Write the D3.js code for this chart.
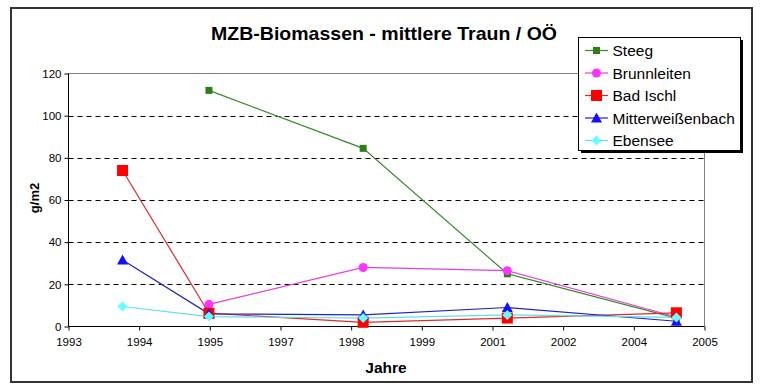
<!DOCTYPE html>
<html><head><meta charset="utf-8">
<script src="https://cdn.jsdelivr.net/npm/d3@7"></script>
<style>body{margin:0;background:#fff}svg{display:block;font-family:"Liberation Sans",Arial,sans-serif}</style>
</head><body><svg id="c" width="762" height="387"></svg>
<script>
const seriesNames = ["Steeg","Brunnleiten","Bad Ischl","Mitterweißenbach","Ebensee"];
const steegYears = [1995.65, 1998.56, 2001.28, 2004.47];
const steegValues = [112, 84.5, 25, 4];
const brunnYears = [1995.65, 1998.56, 2001.28, 2004.47];
const brunnValues = [10.5, 28, 26.5, 4.5];
const ischlYears = [1994.02, 1995.65, 1998.56, 2001.28, 2004.47];
const ischlValues = [74, 6.3, 2, 4, 6.5];
const mitterYears = [1994.02, 1995.65, 1998.56, 2001.28, 2004.47];
const mitterValues = [31.5, 6, 5.5, 9, 2.5];
const ebenseeYears = [1994.02, 1995.65, 1998.56, 2001.28, 2004.47];
const ebenseeValues = [9.5, 4.7, 4, 5.5, 4.3];
const xTickLabels = ["1993","1994","1995","1997","1998","1999","2001","2002","2004","2005"];
const yTicks = [0,20,40,60,80,100,120];

const styles = [
  {line:"#3a8a2a", fill:"#2e7d18", shape:"square", size:7},
  {line:"#e040e0", fill:"#ff33ff", shape:"circle", size:9},
  {line:"#e02a2a", fill:"#ff0000", shape:"square", size:11},
  {line:"#2020c8", fill:"#1010ff", shape:"triangle", size:11},
  {line:"#5ee0ee", fill:"#66ffff", shape:"diamond", size:10}
];
const data = [
  [steegYears, steegValues],[brunnYears, brunnValues],[ischlYears, ischlValues],
  [mitterYears, mitterValues],[ebenseeYears, ebenseeValues]
].map(([xs, ys]) => xs.map((x,i)=>({x, y:ys[i]})));

const svg = d3.select("#c");
const L=68.5, R=704.5, T=73.5, B=326.5;
const x = d3.scaleLinear().domain([1993,2005]).range([L,R]);
const y = d3.scaleLinear().domain([0,120]).range([B,T]);

// outer frame
svg.append("rect").attr("x",11).attr("y",8).attr("width",741).attr("height",374)
  .attr("fill","#fff").attr("stroke","#333").attr("stroke-width",2);

// gridlines
svg.append("g").selectAll("line").data(yTicks.filter(d=>d>0 && d<120)).join("line")
  .attr("x1",L).attr("x2",R).attr("y1",d=>Math.round(y(d))+0.5).attr("y2",d=>Math.round(y(d))+0.5)
  .attr("stroke","#000").attr("stroke-width",1).attr("stroke-dasharray","5,4");
// plot border top/right
svg.append("path").attr("d",`M${L},${T}H${R}V${B}`).attr("fill","none").attr("stroke","#808080").attr("stroke-width",1);

// axes
const xTickVals = d3.range(xTickLabels.length).map(i => 1993 + i*12/(xTickLabels.length-1));
const xAxis = d3.axisBottom(x).tickValues(xTickVals).tickSize(4).tickPadding(7)
  .tickFormat((d,i)=>xTickLabels[i]);
const gx = svg.append("g").attr("transform",`translate(0,${B})`).call(xAxis);
const yAxis = d3.axisLeft(y).tickValues(yTicks).tickSize(4).tickPadding(3);
const gy = svg.append("g").attr("transform",`translate(${L},0)`).call(yAxis);
[gx,gy].forEach(g=>{
  g.selectAll("text").attr("font-size","11.5px").attr("fill","#000").attr("font-family",'"Liberation Sans",Arial,sans-serif');
  g.selectAll("line,path").attr("stroke","#000");
});
gy.select(".domain").attr("d",`M0,${T}V${B}`);
gx.select(".domain").attr("d",`M${L},0H${R}`);

// symbols
function marker(sel, st){
  const s = st.size;
  if(st.shape==="square") sel.append("rect").attr("x",-s/2).attr("y",-s/2).attr("width",s).attr("height",s).attr("fill",st.fill);
  else if(st.shape==="circle") sel.append("circle").attr("r",s/2).attr("fill",st.fill);
  else if(st.shape==="triangle") sel.append("path").attr("d",`M0,${-s/2}L${s/2},${s/2-1}L${-s/2},${s/2-1}Z`).attr("fill",st.fill);
  else sel.append("path").attr("d",`M0,${-s/2}L${s/2},0L0,${s/2}L${-s/2},0Z`).attr("fill",st.fill);
}

const line = d3.line().x(d=>x(d.x)).y(d=>y(d.y));
data.forEach((pts,i)=>{
  const st = styles[i];
  svg.append("path").datum(pts).attr("d",line).attr("fill","none").attr("stroke",st.line).attr("stroke-width",1.2);
});
data.forEach((pts,i)=>{
  const st = styles[i];
  pts.forEach(p=>{
    const g = svg.append("g").attr("transform",`translate(${x(p.x)},${y(p.y)})`);
    marker(g, st);
  });
});

// title
svg.append("text").attr("x",211).attr("y",40).attr("font-size","18.5px").attr("font-weight","bold")
  .attr("textLength",346).attr("lengthAdjust","spacingAndGlyphs")
  .text("MZB-Biomassen - mittlere Traun / OÖ");
// axis titles
svg.append("text").attr("transform","translate(39,198) rotate(-90)").attr("text-anchor","middle")
  .attr("font-size","13px").attr("font-weight","bold").text("g/m2");
svg.append("text").attr("x",386).attr("y",373).attr("text-anchor","middle")
  .attr("font-size","15.5px").attr("font-weight","bold").text("Jahre");

// legend
const lx=578, ly=37, lw=162, lh=113;
svg.append("rect").attr("x",lx+3).attr("y",ly+3).attr("width",lw).attr("height",lh).attr("fill","#000");
svg.append("rect").attr("x",lx+0.5).attr("y",ly+0.5).attr("width",lw).attr("height",lh).attr("fill","#fff").attr("stroke","#000");
seriesNames.forEach((name,i)=>{
  const cy = 50.5 + i*22.5;
  const st = styles[i];
  svg.append("line").attr("x1",585).attr("x2",608).attr("y1",cy).attr("y2",cy).attr("stroke",st.line).attr("stroke-width",1.2);
  const g = svg.append("g").attr("transform",`translate(596.5,${cy})`);
  marker(g, st);
  svg.append("text").attr("x",612.5).attr("y",cy+5.5).attr("font-size","15.5px").text(name);
});
</script></body></html>
